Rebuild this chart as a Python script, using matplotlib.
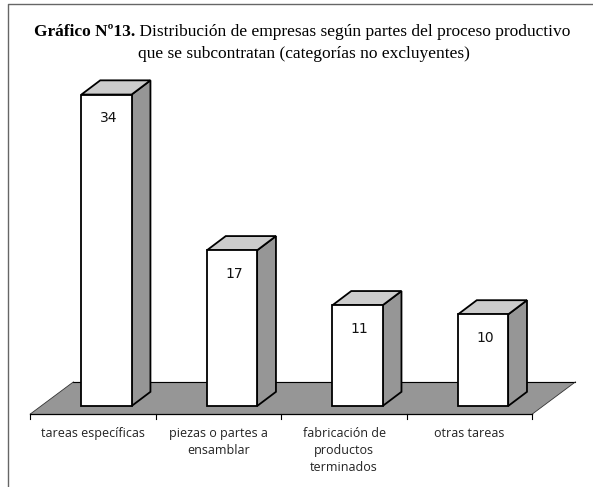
import matplotlib
matplotlib.use("Agg")
import matplotlib.pyplot as plt
from matplotlib.patches import Polygon, Rectangle

categorias = ["tareas específicas", "piezas o partes a\nensamblar",
              "fabricación de\nproductos\nterminados", "otras tareas"]
valores = [34, 17, 11, 10]

titulo_negrita = "Gráfico Nº13."
titulo_linea1 = " Distribución de empresas según partes del proceso productivo"
titulo_linea2 = "que se subcontratan (categorías no excluyentes)"

GRIS = "#969696"
ancho = 0.40
# profundidad de las barras y del piso, en unidades de los ejes
dx_barra, dy_barra = 0.15, 1.55
dx_piso, dy_piso = 0.343, 3.5
base_piso = -0.87
# las barras no quedan centradas en su categoria
corrimiento = 0.107

fig = plt.figure(figsize=(5.93, 4.87), dpi=100)
ax = fig.add_axes([0, 0, 1, 1])
ax.set_xlim(-0.8486, 3.876)
ax.set_ylim(-8.84, 44.32)
ax.axis("off")

# marco
ax.plot([0.0135, 0.0135, 1], [0, 0.992, 0.992], transform=ax.transAxes,
        color="#666666", lw=1.0, clip_on=False)

# piso
x0 = -0.5 - corrimiento
x1 = len(valores) - 0.5 - corrimiento
piso = [(x0, base_piso), (x1, base_piso),
        (x1 + dx_piso, base_piso + dy_piso), (x0 + dx_piso, base_piso + dy_piso)]
ax.add_patch(Polygon(piso, closed=True, facecolor=GRIS, edgecolor="none", zorder=1))
ax.plot([x0 + dx_piso, x1 + dx_piso], [base_piso + dy_piso] * 2, color="black", lw=0.8, zorder=1.5)
ax.plot([x0, x0 + dx_piso], [base_piso, base_piso + dy_piso], color="#333333", lw=0.6, zorder=1.5)
ax.plot([x1, x1 + dx_piso], [base_piso, base_piso + dy_piso], color="#333333", lw=0.6, zorder=1.5)

# eje y marcas
ax.plot([x0, x1], [base_piso, base_piso], color="black", lw=0.9, zorder=1.5)
for i in range(len(valores) + 1):
    ax.plot([x0 + i] * 2, [base_piso, base_piso - 0.55], color="black", lw=0.8, zorder=1.5)

# barras
for i, v in enumerate(valores):
    izq = i - ancho / 2
    der = i + ancho / 2
    lado = [(der, 0), (der + dx_barra, dy_barra), (der + dx_barra, v + dy_barra), (der, v)]
    tapa = [(izq, v), (der, v), (der + dx_barra, v + dy_barra), (izq + dx_barra, v + dy_barra)]
    ax.add_patch(Polygon(lado, closed=True, facecolor=GRIS, edgecolor="black", lw=1.3, zorder=2))
    ax.add_patch(Polygon(tapa, closed=True, facecolor="#cccccc", edgecolor="black", lw=1.3, zorder=2))
    ax.add_patch(Rectangle((izq, 0), ancho, v, facecolor="white", edgecolor="black", lw=1.3, zorder=3))
    ax.text(i + 0.015, v - 2.55, str(v), ha="center", va="center",
            fontsize=10, family="DejaVu Sans", color="#111111", zorder=4)

# etiquetas
for i, c in enumerate(categorias):
    ax.text(i - corrimiento, -2.3, c, ha="center", va="top", fontsize=9,
            family="Open Sans", color="#222222", linespacing=1.39)

# titulo
t1 = fig.text(34 / 593, 1 - 31.5 / 487, titulo_negrita, family="Liberation Serif",
              fontsize=12.5, fontweight="bold", ha="left", va="center")
ax.annotate(titulo_linea1, xy=(1, 0), xycoords=t1, xytext=(0, 0),
            textcoords="offset points", family="Liberation Serif",
            fontsize=12.5, ha="left", va="bottom")
fig.text(304 / 593, 1 - 53.5 / 487, titulo_linea2, family="Liberation Serif",
         fontsize=12.5, ha="center", va="center")

fig.savefig("out.png", dpi=100)
